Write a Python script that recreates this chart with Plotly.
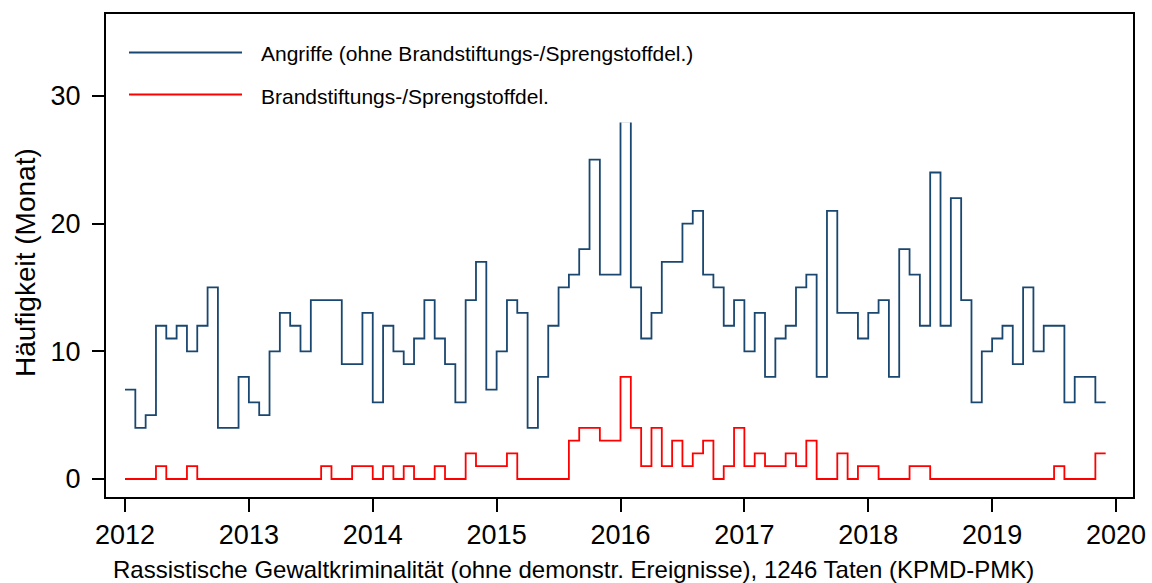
import plotly.graph_objects as go

# Monthly counts Jan 2012 - Dec 2019
angriffe = [
    7, 4, 5, 12, 11, 12, 10, 12, 15, 4, 4, 8,          # 2012
    6, 5, 10, 13, 12, 10, 14, 14, 14, 9, 9, 13,        # 2013
    6, 12, 10, 9, 11, 14, 11, 9, 6, 14, 17, 7,         # 2014
    10, 14, 13, 4, 8, 12, 15, 16, 18, 25, 16, 16,      # 2015
    28, 15, 11, 13, 17, 17, 20, 21, 16, 15, 12, 14,    # 2016
    10, 13, 8, 11, 12, 15, 16, 8, 21, 13, 13, 11,      # 2017
    13, 14, 8, 18, 16, 12, 24, 12, 22, 14, 6, 10,      # 2018
    11, 12, 9, 15, 10, 12, 12, 6, 8, 8, 6, 6,          # 2019
]
brand = [
    0, 0, 0, 1, 0, 0, 1, 0, 0, 0, 0, 0,
    0, 0, 0, 0, 0, 0, 0, 1, 0, 0, 1, 1,
    0, 1, 0, 1, 0, 0, 1, 0, 0, 2, 1, 1,
    1, 2, 0, 0, 0, 0, 0, 3, 4, 4, 3, 3,
    8, 4, 1, 4, 1, 3, 1, 2, 3, 0, 1, 4,
    1, 2, 1, 1, 2, 1, 3, 0, 0, 2, 0, 1,
    1, 0, 0, 0, 1, 1, 0, 0, 0, 0, 0, 0,
    0, 0, 0, 0, 0, 0, 1, 0, 0, 0, 2, 2,
]
start_year = 2012
months = [start_year + i / 12 for i in range(len(angriffe))]
year_ticks = [2012, 2013, 2014, 2015, 2016, 2017, 2018, 2019, 2020]
y_ticks = [0, 10, 20, 30]

name_a = "Angriffe (ohne Brandstiftungs-/Sprengstoffdel.)"
name_b = "Brandstiftungs-/Sprengstoffdel."
x_title = "Rassistische Gewaltkriminalität (ohne demonstr. Ereignisse), 1246 Taten (KPMD-PMK)"
y_title = "Häufigkeit (Monat)"

BLUE = "#1a476f"
RED = "#ff0000"
FONT = "Liberation Sans"

fig = go.Figure()
fig.add_trace(go.Scatter(x=months, y=angriffe, mode="lines", name=name_a,
                         line=dict(color=BLUE, width=1.8, shape="hv"), showlegend=False))
fig.add_trace(go.Scatter(x=months, y=brand, mode="lines", name=name_b,
                         line=dict(color=RED, width=1.8, shape="hv"), showlegend=False))

L, R, T, B = 106, 19, 14, 86
W, H = 1152, 583
pw, ph = W - L - R, H - T - B

def px(X):
    return (X - L) / pw

def py(Y):
    return (H - B - Y) / ph

shapes = [
    # legend background (covers data like the original)
    dict(type="rect", xref="paper", yref="paper", x0=px(108), x1=px(705), y0=py(122.5), y1=py(15.5),
         fillcolor="white", line=dict(width=0), layer="above"),
    dict(type="line", xref="paper", yref="paper", x0=px(129), x1=px(242), y0=py(52.5), y1=py(52.5),
         line=dict(color=BLUE, width=1.8), layer="above"),
    dict(type="line", xref="paper", yref="paper", x0=px(129), x1=px(242), y0=py(94.5), y1=py(94.5),
         line=dict(color=RED, width=1.8), layer="above"),
]
annotations = [
    dict(text=name_a, xref="paper", yref="paper", x=px(259), y=py(53), xanchor="left", yanchor="middle",
         showarrow=False, font=dict(size=21, color="black", family=FONT)),
    dict(text=name_b, xref="paper", yref="paper", x=px(259), y=py(96), xanchor="left", yanchor="middle",
         showarrow=False, font=dict(size=21, color="black", family=FONT)),
    dict(text=x_title, xref="paper", yref="paper", x=px(573), y=py(569), xanchor="center", yanchor="middle",
         showarrow=False, font=dict(size=24, color="black", family=FONT)),
    dict(text=y_title, xref="paper", yref="paper", x=px(25), y=py(263), xanchor="center", yanchor="middle",
         textangle=-90, showarrow=False, font=dict(size=28, color="black", family=FONT)),
]

fig.update_layout(
    width=W, height=H,
    margin=dict(l=L, r=R, t=T, b=B, pad=0),
    paper_bgcolor="white", plot_bgcolor="white",
    font=dict(family=FONT, color="black"),
    shapes=shapes, annotations=annotations,
    showlegend=False,
)
fig.update_xaxes(range=[2011.8466, 2020.1372], tickvals=year_ticks, ticktext=[str(t) for t in year_ticks],
                 showgrid=False, zeroline=False, showline=True, linecolor="black", linewidth=2, mirror=True,
                 ticks="outside", ticklen=13, tickwidth=2, tickcolor="black",
                 tickfont=dict(size=27, family=FONT, color="black"), automargin=False)
fig.update_yaxes(range=[-1.41, 36.41], tickvals=y_ticks, ticktext=[str(t) for t in y_ticks],
                 showgrid=False, zeroline=False, showline=True, linecolor="black", linewidth=2, mirror=True,
                 ticks="outside", ticklen=12, tickwidth=2, tickcolor="black", ticklabelstandoff=6,
                 tickfont=dict(size=27, family=FONT, color="black"), automargin=False)

fig.write_html("out.html", config={"displayModeBar": False},
               post_script=["document.body.style.margin='0px';"])
